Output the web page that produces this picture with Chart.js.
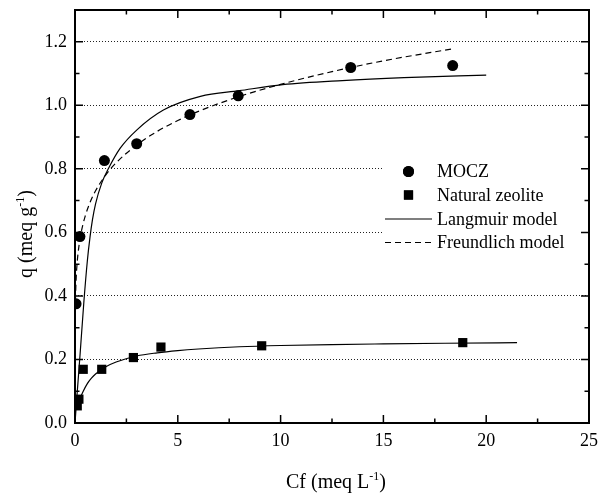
<!DOCTYPE html>
<html>
<head>
<meta charset="utf-8">
<script src="https://cdn.jsdelivr.net/npm/chart.js@4/dist/chart.umd.min.js"></script>
<style>
  html, body { margin: 0; padding: 0; background: #fff; }
  canvas { display: block; }
</style>
</head>
<body>
<canvas id="c" width="598" height="495"></canvas>
<script>
// Measured isotherm points (Cf in meq/L, q in meq/g)
const moczCf = [0.05, 0.24, 1.43, 3.0, 5.59, 7.94, 13.41, 18.37];
const moczQ  = [0.375, 0.587, 0.826, 0.879, 0.971, 1.030, 1.119, 1.125];
const zeoCf  = [0.11, 0.19, 0.40, 1.30, 2.84, 4.18, 9.08, 18.86];
const zeoQ   = [0.054, 0.075, 0.169, 0.169, 0.206, 0.239, 0.243, 0.253];

// Fitted model curves, sampled along Cf
const langMoczCf = [0, 0.1, 0.24, 0.43, 0.6, 0.73, 0.85, 1.0, 1.3, 1.62, 2.2, 3, 4.3, 6.1, 8, 10.1, 13, 16, 20];
const langMoczQ  = [0, 0.09, 0.21, 0.38, 0.51, 0.585, 0.64, 0.69, 0.755, 0.80, 0.865, 0.922, 0.985, 1.028, 1.046, 1.065, 1.078, 1.087, 1.095];
const langZeoCf  = [0.15, 0.25, 0.4, 0.6, 0.8, 1, 1.5, 2, 3, 4, 5, 6, 8, 10, 12.5, 15, 18, 21.5];
const langZeoQ   = [0.058, 0.078, 0.100, 0.124, 0.141, 0.154, 0.177, 0.192, 0.211, 0.221, 0.228, 0.233, 0.240, 0.244, 0.247, 0.249, 0.251, 0.253];
const freuMoczCf = [0.02, 0.05, 0.1, 0.2, 0.3, 0.5, 0.75, 1, 1.5, 2, 3, 4, 5, 6, 8, 10, 12.5, 15, 18.37];
const freuMoczQ  = [0.385, 0.447, 0.501, 0.561, 0.600, 0.652, 0.697, 0.731, 0.781, 0.819, 0.875, 0.918, 0.952, 0.981, 1.028, 1.066, 1.106, 1.140, 1.178];

// Axis ticks
const xTicks = [0, 5, 10, 15, 20, 25];
const xMinorTicks = [2.5, 7.5, 12.5, 17.5, 22.5];
const yTicks = [0, 0.2, 0.4, 0.6, 0.8, 1.0, 1.2];
const yMinorTicks = [0.1, 0.3, 0.5, 0.7, 0.9, 1.1];

const FONT = '"Liberation Serif", "Times New Roman", serif';
const pts = (xs, ys) => xs.map((v, i) => ({ x: v, y: ys[i] }));

const frameAndTitles = {
  id: 'frameAndTitles',
  afterDatasetsDraw(chart) {
    const { ctx } = chart;
    ctx.save();
    // legend
    ctx.fillStyle = '#fff';
    ctx.fillRect(382, 159, 205, 97);
    const rows = [171.5, 195, 219, 242.5];
    const ds = chart.data.datasets.filter(d => d.inLegend !== false);
    ctx.fillStyle = '#000';
    ctx.strokeStyle = '#000';
    ctx.font = '18px ' + FONT;
    ctx.textBaseline = 'middle';
    ctx.textAlign = 'left';
    ds.forEach((d, i) => {
      const cy = rows[i];
      if (d.showLine) {
        ctx.save();
        ctx.lineWidth = d.borderWidth;
        ctx.setLineDash(d.borderDash || []);
        ctx.beginPath();
        ctx.moveTo(385, cy);
        ctx.lineTo(432, cy);
        ctx.stroke();
        ctx.restore();
      } else {
        Chart.helpers.drawPoint(ctx, { pointStyle: d.pointStyle, radius: d.pointRadius, borderWidth: 0 }, 408.5, cy);
        ctx.fill();
      }
      ctx.fillText(d.label, 437, cy + 1);
    });
    ctx.restore();
  },
  afterDraw(chart) {
    const { ctx, chartArea: a, scales: { x, y } } = chart;
    ctx.save();
    ctx.strokeStyle = '#000';
    ctx.lineWidth = 1.5;
    ctx.beginPath();
    const xt = (v, len) => {
      const p = x.getPixelForValue(v);
      ctx.moveTo(p, a.bottom); ctx.lineTo(p, a.bottom - len);
      ctx.moveTo(p, a.top); ctx.lineTo(p, a.top + len);
    };
    const yt = (v, len) => {
      const p = y.getPixelForValue(v);
      ctx.moveTo(a.left, p); ctx.lineTo(a.left + len, p);
      ctx.moveTo(a.right, p); ctx.lineTo(a.right - len, p);
    };
    xTicks.forEach(v => xt(v, 8));
    xMinorTicks.forEach(v => xt(v, 4.5));
    yTicks.forEach(v => yt(v, 8));
    yMinorTicks.forEach(v => yt(v, 4.5));
    ctx.stroke();
    ctx.lineWidth = 2;
    ctx.strokeRect(a.left, a.top, a.right - a.left, a.bottom - a.top);

    // axis titles with superscripts
    const drawSup = (parts, cx, cy) => {
      const base = '20px ' + FONT, small = '12px ' + FONT;
      let w = 0;
      parts.forEach(p => { ctx.font = p.sup ? small : base; w += ctx.measureText(p.t).width; });
      let px = cx - w / 2;
      ctx.textAlign = 'left';
      ctx.textBaseline = 'alphabetic';
      parts.forEach(p => {
        ctx.font = p.sup ? small : base;
        ctx.fillText(p.t, px, p.sup ? cy - 8 : cy);
        px += ctx.measureText(p.t).width;
      });
    };
    ctx.fillStyle = '#000';
    drawSup([{ t: 'Cf (meq L' }, { t: '-1', sup: true }, { t: ')' }], (a.left + a.right) / 2 + 4, 488);
    ctx.save();
    ctx.translate(32, 234);
    ctx.rotate(-Math.PI / 2);
    drawSup([{ t: 'q (meq g' }, { t: '-1', sup: true }, { t: ')' }], 0, 0);
    ctx.restore();
    ctx.restore();
  }
};

new Chart(document.getElementById('c'), {
  type: 'scatter',
  data: {
    datasets: [
      { label: 'MOCZ', data: pts(moczCf, moczQ), pointStyle: 'circle', pointRadius: 5.5,
        backgroundColor: '#000', borderWidth: 0, showLine: false },
      { label: 'Natural zeolite', data: pts(zeoCf, zeoQ), pointStyle: 'rect', pointRadius: 6.5,
        backgroundColor: '#000', borderWidth: 0, showLine: false },
      { label: 'Langmuir model', data: pts(langMoczCf, langMoczQ), showLine: true, pointRadius: 0,
        borderColor: '#000', borderWidth: 1.2, cubicInterpolationMode: 'monotone', fill: false },
      { label: 'Freundlich model', data: pts(freuMoczCf, freuMoczQ), showLine: true, pointRadius: 0,
        borderColor: '#000', borderWidth: 1.2, borderDash: [6, 4], cubicInterpolationMode: 'monotone', fill: false },
      { label: 'Langmuir model (zeolite)', data: pts(langZeoCf, langZeoQ), showLine: true, pointRadius: 0,
        borderColor: '#000', borderWidth: 1.2, cubicInterpolationMode: 'monotone', fill: false, inLegend: false }
    ]
  },
  options: {
    responsive: false,
    animation: false,
    layout: { padding: { top: 10, right: 9, left: 0, bottom: 0 } },
    plugins: { legend: { display: false }, tooltip: { enabled: false } },
    scales: {
      x: {
        type: 'linear', min: 0, max: 25,
        afterBuildTicks: s => { s.ticks = xTicks.map(v => ({ value: v })); },
        afterFit: s => { s.height = 72; s.paddingLeft = 0; s.paddingRight = 0; },
        grid: { display: false, drawTicks: false },
        border: { display: false },
        ticks: { padding: 7, color: '#000', maxRotation: 0, font: { family: FONT, size: 18 } }
      },
      y: {
        type: 'linear', min: 0, max: 1.3,
        afterBuildTicks: s => { s.ticks = yTicks.map(v => ({ value: v })); },
        afterFit: s => { s.width = 75; s.paddingTop = 0; s.paddingBottom = 0; },
        grid: { color: c => (c.tick && c.tick.value === 0) ? 'rgba(0,0,0,0)' : '#222', lineWidth: 1, drawTicks: false },
        border: { display: false, dash: [1, 2] },
        ticks: { padding: 8, color: '#000', font: { family: FONT, size: 18 },
                 callback: v => v.toFixed(1) }
      }
    }
  },
  plugins: [frameAndTitles]
});
</script>
</body>
</html>
